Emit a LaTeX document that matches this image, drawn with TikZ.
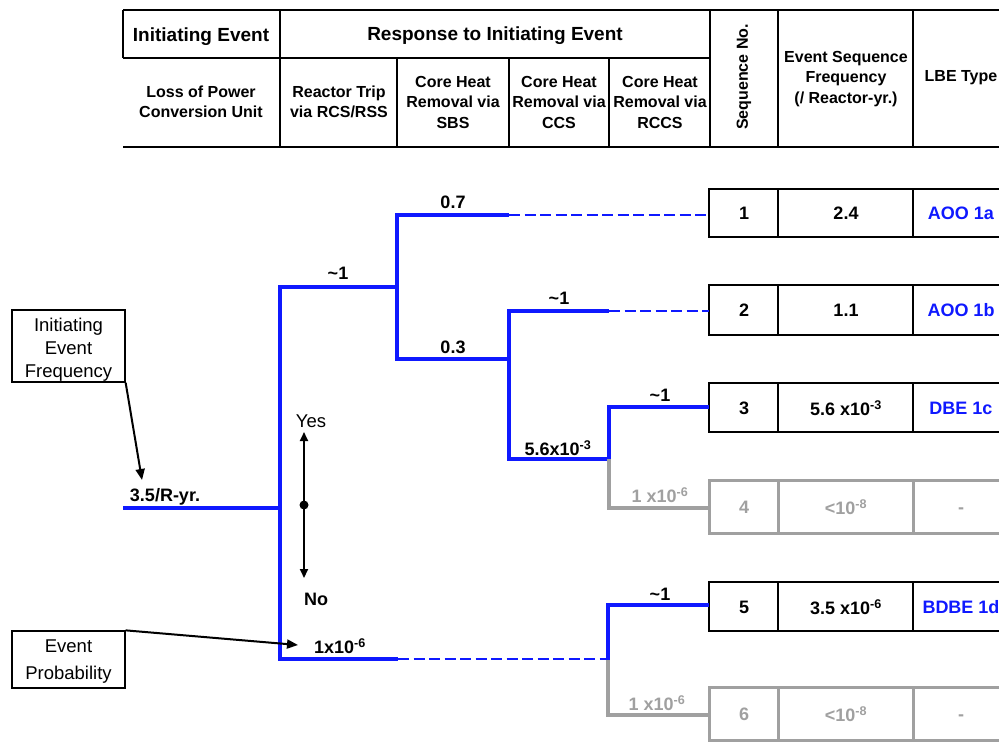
\documentclass[tikz,border=0pt]{standalone}
\usepackage{fontspec}
\setmainfont{Liberation Sans}
\usetikzlibrary{arrows.meta}
\definecolor{tblue}{RGB}{15,25,255}
\definecolor{tgray}{RGB}{160,160,160}
\begin{document}
\begin{tikzpicture}[x=1pt,y=-1pt,
  grid/.style={draw=black, line width=1.4pt},
  hdr/.style={font=\fontsize{16}{20.5}\selectfont\bfseries, align=center, inner sep=0pt},
  hdrtop/.style={font=\fontsize{19}{22}\selectfont\bfseries, inner sep=0pt, text height=0.72em, text depth=0pt, yshift=-4pt},
  lbl/.style={font=\fontsize{18}{22}\selectfont\bfseries, inner sep=0pt, text height=0.72em, text depth=0pt, yshift=-3pt},
  graylbl/.style={lbl, text=tgray},
  bluelbl/.style={lbl, text=tblue},
  plainlbl/.style={font=\fontsize{18.5}{22}\selectfont, inner sep=0pt, text height=0.72em, text depth=0pt, yshift=-3pt},
  branch/.style={draw=tblue, line width=4pt, line join=miter},
  failbranch/.style={draw=tgray, line width=4pt, line join=miter},
  dashbranch/.style={draw=tblue, line width=2.5pt, dash pattern=on 11pt off 4.5pt},
  rowbox/.style={draw=black, line width=1.3pt},
  grayrow/.style={draw=tgray, line width=3pt},
  infobox/.style={draw=black, line width=1.3pt, inner sep=0pt},
  boxtext/.style={align=center, inner sep=0pt},
  pointer/.style={draw=black, line width=2pt, -{Triangle[length=11pt,width=9pt]}},
]
\useasboundingbox (0,0) rectangle (999,742);
\clip (0,0) rectangle (999,742);

% ---------- header table ----------
\draw[grid] (123,10) -- (1010,10);
\draw[grid] (123,58) -- (710,58);
\draw[grid] (123,147) -- (1010,147);
\draw[grid] (123,10) -- (123,58);
\foreach \xx in {280,710,778,913} \draw[grid] (\xx,10) -- (\xx,147);
\foreach \xx in {397,509,609} \draw[grid] (\xx,58) -- (\xx,147);

\node[hdrtop] (hIE) at (201,34) {Initiating Event};
\node[hdrtop] (hResp) at (495,33) {Response to Initiating Event};
\node[hdr] (hLoss) at (201,102) {Loss of Power\\Conversion Unit};
\node[hdr] (hTrip) at (339,102) {Reactor Trip\\via RCS/RSS};
\node[hdr] (hSBS) at (453,102) {Core Heat\\Removal via\\SBS};
\node[hdr] (hCCS) at (559,102) {Core Heat\\Removal via\\CCS};
\node[hdr] (hRCCS) at (660,102) {Core Heat\\Removal via\\RCCS};
\node[hdr, rotate=90] (hSeq) at (744,77) {Sequence No.};
\node[hdr] (hFreq) at (846,79) {Event Sequence\\Frequency\\(/ Reactor-yr.)};
\node[hdr] (hLBE) at (961,78) {LBE Type};

% ---------- result rows ----------
\foreach \tp/\bt in {189/237, 285/335, 383/432, 582/631} {
  \draw[rowbox] (1010,\tp) -- (709,\tp) -- (709,\bt) -- (1010,\bt);
  \draw[rowbox] (778,\tp) -- (778,\bt);
  \draw[rowbox] (913,\tp) -- (913,\bt);
}
\foreach \tp/\bt in {480/533, 687/740} {
  \draw[grayrow] (1010,\tp) -- (709,\tp) -- (709,\bt) -- (1010,\bt);
  \draw[grayrow] (778,\tp) -- (778,\bt);
  \draw[grayrow] (913,\tp) -- (913,\bt);
}

\node[lbl] (s1) at (744,213) {1};
\node[lbl] (f1) at (846,213) {2.4};
\node[bluelbl] (t1) at (961,213) {AOO 1a};
\node[lbl] (s2) at (744,310) {2};
\node[lbl] (f2) at (846,310) {1.1};
\node[bluelbl] (t2) at (961,310) {AOO 1b};
\node[lbl] (s3) at (744,408) {3};
\node[lbl] (f3) at (846,409) {5.6 x10\textsuperscript{-3}};
\node[bluelbl] (t3) at (961,408) {DBE 1c};
\node[graylbl] (s4) at (744,507) {4};
\node[graylbl] (f4) at (846,508) {<10\textsuperscript{-8}};
\node[graylbl] (t4) at (961,507) {-};
\node[lbl] (s5) at (744,607) {5};
\node[lbl] (f5) at (846,608) {3.5 x10\textsuperscript{-6}};
\node[bluelbl] (t5) at (961,607) {BDBE 1d};
\node[graylbl] (s6) at (744,714) {6};
\node[graylbl] (f6) at (846,715) {<10\textsuperscript{-8}};
\node[graylbl] (t6) at (961,714) {-};

% ---------- event tree ----------
\coordinate (root) at (123,508);
\coordinate (n1) at (280,508);
\coordinate (n1up) at (280,287);
\coordinate (n1dn) at (280,659);
\coordinate (n2) at (397,287);
\coordinate (n2up) at (397,215);
\coordinate (n2dn) at (397,359);
\coordinate (b07) at (509,215);
\coordinate (n3) at (509,359);
\coordinate (n3up) at (509,311);
\coordinate (n3dn) at (509,459);
\coordinate (b1) at (609,311);
\coordinate (n4) at (609,459);
\coordinate (n4up) at (609,407);
\coordinate (n4dn) at (609,508);
\coordinate (bot) at (398,659);
\coordinate (n5) at (608,659);
\coordinate (n5up) at (608,605);
\coordinate (n5dn) at (608,715);
\coordinate (r1) at (709,215);
\coordinate (r2) at (709,311);
\coordinate (r3) at (709,407);
\coordinate (r4) at (709,508);
\coordinate (r5) at (709,605);
\coordinate (r6) at (709,715);

\draw[branch] (root) -- (n1);
\draw[branch] (n2) -- (n1up) -- (n1dn) -- (bot);
\draw[branch] (b07) -- (n2up) -- (n2dn) -- (n3);
\draw[dashbranch] (b07) -- (r1);
\draw[branch] (b1) -- (n3up) -- (n3dn) -- (n4);
\draw[dashbranch] (b1) -- (r2);
\draw[branch] (r3) -- (n4up) -- (n4);
\draw[failbranch] (n4) -- (n4dn) -- (r4);
\draw[dashbranch] (bot) -- (n5);
\draw[branch] (r5) -- (n5up) -- ([yshift=-1pt]n5);
\draw[failbranch] ([yshift=-1pt]n5) -- (n5dn) -- (r6);

% ---------- branch labels ----------
\node[lbl] (lIE) at (165,495) {3.5/R-yr.};
\node[lbl] (lA) at (338,273) {\textasciitilde 1};
\node[lbl] (lB) at (453,202) {0.7};
\node[lbl] (lC) at (453,347) {0.3};
\node[lbl] (lD) at (559,298) {\textasciitilde 1};
\node[lbl] (lE) at (558,449) {5.6x10\textsuperscript{-3}};
\node[lbl] (lF) at (660,395) {\textasciitilde 1};
\node[graylbl] (lG) at (660,496) {1 x10\textsuperscript{-6}};
\node[lbl] (lH) at (660,594) {\textasciitilde 1};
\node[graylbl] (lI) at (657,704) {1 x10\textsuperscript{-6}};
\node[lbl] (lJ) at (340,647) {1x10\textsuperscript{-6}};

% ---------- yes / no ----------
\node[plainlbl] (yes) at (311,421) {Yes};
\node[lbl] (no) at (316,599) {No};
\coordinate (yesTip) at (304,432);
\coordinate (noTip) at (304,578);
\coordinate (ynMid) at (304,505);
\draw[line width=2pt, {Triangle[length=9pt,width=8pt]}-{Triangle[length=9pt,width=8pt]}] (yesTip) -- (noTip);
\fill (ynMid) circle (4.5pt);

% ---------- annotation boxes ----------
\node[infobox, minimum width=113pt, minimum height=72pt] (ief) at (68.5,346) {};
\node[boxtext, font=\fontsize{18.5}{23}\selectfont] (iefText) at (68.5,350) {Initiating\\Event\\Frequency};
\coordinate (iefTip) at (142,480);
\draw[pointer] (ief.south east) -- (iefTip);
\node[infobox, minimum width=113pt, minimum height=57pt] (ep) at (68.5,659.5) {};
\node[boxtext, font=\fontsize{18.5}{27}\selectfont] (epText) at (68.5,662) {Event\\Probability};
\coordinate (epTip) at (298,645);
\draw[pointer] (ep.north east) -- (epTip);
\end{tikzpicture}
\end{document}
